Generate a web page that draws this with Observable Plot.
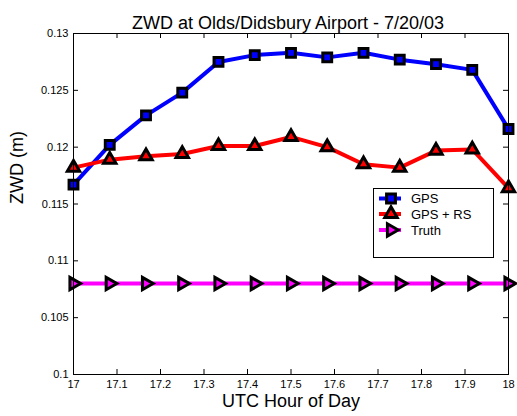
<!DOCTYPE html>
<html>
<head>
<meta charset="utf-8">
<script src="https://cdn.jsdelivr.net/npm/d3@7"></script>
<script src="https://cdn.jsdelivr.net/npm/@observablehq/plot@0.6"></script>
<style>
  body { margin: 0; background: #fff; font-family: "Liberation Sans", Arial, sans-serif; }
  #wrap { position: relative; width: 517px; height: 416px; }
  #legend { position: absolute; left: 373px; top: 188px; }
</style>
</head>
<body>
<div id="wrap"></div>
<script>
// ---- data ----
const hours = [17, 17.0833, 17.1667, 17.25, 17.3333, 17.4167, 17.5, 17.5833, 17.6667, 17.75, 17.8333, 17.9167, 18];
const gps   = [0.1167, 0.1202, 0.1228, 0.1248, 0.1275, 0.1281, 0.1283, 0.1279, 0.1283, 0.1277, 0.1273, 0.1268, 0.1216];
const gpsRs = [0.1182, 0.1189, 0.1192, 0.1194, 0.1201, 0.1201, 0.1209, 0.1200, 0.1185, 0.1182, 0.1197, 0.1198, 0.1164];
const truth = [0.108, 0.108, 0.108, 0.108, 0.108, 0.108, 0.108, 0.108, 0.108, 0.108, 0.108, 0.108, 0.108];
const xTicks = [17, 17.1, 17.2, 17.3, 17.4, 17.5, 17.6, 17.7, 17.8, 17.9, 18];
const yTicks = [0.1, 0.105, 0.11, 0.115, 0.12, 0.125, 0.13];
const seriesNames = ["GPS", "GPS + RS", "Truth"];
const seriesColors = ["#0000ff", "#ff0000", "#ff00ff"];
const titleText = "ZWD at Olds/Didsbury Airport - 7/20/03";
const xLabel = "UTC Hour of Day";
const yLabel = "ZWD (m)";

// ---- layout ----
const W = 517, H = 416, mt = 33, mb = 42, ml = 73, mr = 9;
const pw = W - ml - mr, ph = H - mt - mb;
const font = '"Liberation Sans", Arial, sans-serif';

const rows = hours.map((h, i) => ({h, gps: gps[i], rs: gpsRs[i], truth: truth[i]}));

// right-pointing triangle symbol (d3 triangle rotated 90deg)
const triangleRight = {
  draw(ctx, size) {
    const y = -Math.sqrt(size / (Math.sqrt(3) * 3));
    ctx.moveTo(-2 * y, 0);
    ctx.lineTo(y, -Math.sqrt(3) * y);
    ctx.lineTo(y, Math.sqrt(3) * y);
    ctx.closePath();
  }
};
const symbols = [d3.symbolSquare, d3.symbolTriangle, triangleRight];
const keys = ["gps", "rs", "truth"];
const rSym = [5, 4.6, 4.6];

const seriesMarks = keys.flatMap((k, i) => [
  Plot.line(rows, {x: "h", y: k, stroke: seriesColors[i], strokeWidth: 4}),
  Plot.dot(rows, {x: "h", y: k, symbol: symbols[i], r: rSym[i], fill: seriesColors[i],
    stroke: "black", strokeWidth: 3, strokeLinejoin: "miter"})
]);

const chart = Plot.plot({
  width: W, height: H,
  marginTop: mt, marginBottom: mb, marginLeft: ml, marginRight: mr,
  style: {fontFamily: font, fontSize: "11px", color: "black", background: "white", overflow: "visible"},
  x: {domain: [17, 18]},
  y: {domain: [0.1, 0.13]},
  marks: [
    Plot.axisX({ticks: xTicks, tickSize: 0, tickPadding: 6, label: null,
      tickFormat: d => String(+d.toFixed(1)), fontSize: 11}),
    Plot.axisY({ticks: yTicks, tickSize: 0, tickPadding: 5, label: null,
      tickFormat: d => String(+d.toFixed(3)), fontSize: 11}),
    Plot.tickX(xTicks, {x: d => d, insetTop: ph - 5, stroke: "black"}),
    Plot.tickX(xTicks, {x: d => d, insetBottom: ph - 5, stroke: "black"}),
    Plot.tickY(yTicks, {y: d => d, insetRight: pw - 5, stroke: "black"}),
    Plot.tickY(yTicks, {y: d => d, insetLeft: pw - 5, stroke: "black"}),
    ...seriesMarks,
    Plot.frame({stroke: "black", strokeWidth: 1}),
    Plot.text([titleText], {frameAnchor: "top", dx: -3, dy: -17, fontSize: 18, fill: "black"}),
    Plot.text([xLabel], {frameAnchor: "bottom", dy: 32, fontSize: 18, fill: "black"}),
    Plot.text([yLabel], {frameAnchor: "left", dx: -56, rotate: -90, fontSize: 18, fill: "black"})
  ]
});
const wrap = document.getElementById("wrap");
wrap.appendChild(chart);

// ---- legend ----
const lw = 120, lh = 69;
const leg = d3.create("svg").attr("id", "legend").attr("width", lw + 1).attr("height", lh + 1);
leg.append("rect").attr("x", 0.5).attr("y", 0.5).attr("width", lw).attr("height", lh)
  .attr("fill", "white").attr("stroke", "black");
const rowY = [10.5, 26, 42];
seriesNames.forEach((name, i) => {
  const g = leg.append("g").attr("transform", `translate(0,${rowY[i]})`);
  g.append("line").attr("x1", 6).attr("x2", 28).attr("stroke", seriesColors[i]).attr("stroke-width", 4);
  g.append("path").attr("transform", "translate(18,0)")
    .attr("d", d3.symbol(symbols[i], Math.PI * rSym[i] * rSym[i])())
    .attr("fill", seriesColors[i]).attr("stroke", "black").attr("stroke-width", 3).attr("stroke-linejoin", "miter");
  g.append("text").attr("x", 38).attr("dy", "0.35em").attr("font-size", 13)
    .attr("font-family", font).attr("fill", "black").text(name);
});
wrap.appendChild(leg.node());
</script>
</body>
</html>
